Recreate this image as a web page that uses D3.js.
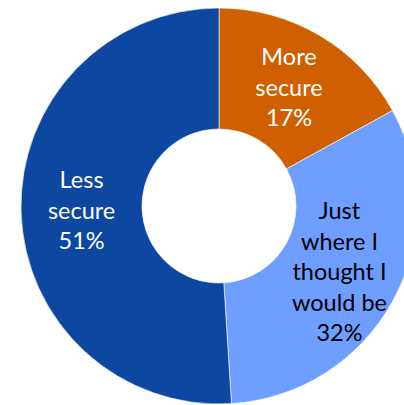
<!DOCTYPE html>
<html>
<head>
<meta charset="utf-8">
<script src="https://cdn.jsdelivr.net/npm/d3@7"></script>
<style>
  body { margin: 0; background: #fff; }
</style>
</head>
<body>
<div id="chart"></div>
<script>
const WIDTH = 404;
const HEIGHT = 405;

// données
const categories = ["More secure", "Just where I thought I would be", "Less secure"];
const values = [17, 32, 51];
const labelLines = [
  ["More", "secure", "17%"],
  ["Just", "where I", "thought I", "would be", "32%"],
  ["Less", "secure", "51%"]
];
const colors = ["#D05F00", "#6E9EFF", "#0D47A1"];
const textColors = ["#ffffff", "#000000", "#ffffff"];

const cx = 219;
const cy = 206;
const outerR = 198;
const innerR = 77;

const svg = d3
  .select("#chart")
  .append("svg")
  .attr("width", WIDTH)
  .attr("height", HEIGHT);

const g = svg.append("g").attr("transform", `translate(${cx},${cy})`);

const pie = d3.pie().sort(null).value((d) => d);
const arcs = pie(values);

const arc = d3.arc().innerRadius(innerR).outerRadius(outerR);

g.selectAll("path")
  .data(arcs)
  .enter()
  .append("path")
  .attr("d", arc)
  .attr("fill", (d, i) => colors[i])
  .attr("stroke", "#fff")
  .attr("stroke-width", 0.6);

// étiquettes au centre de chaque part
const LINE_H = 30.5;
const labels = g.selectAll("text.lbl")
  .data(arcs)
  .enter()
  .append("text")
  .attr("class", "lbl")
  .attr("transform", (d) => `translate(${arc.centroid(d)})`)
  .attr("text-anchor", "middle")
  .attr("font-family", "Lato, 'Open Sans', sans-serif")
  .attr("font-size", 23.5)
  .attr("fill", (d, i) => textColors[i]);

labels.each(function (d, i) {
  const lines = labelLines[i];
  const t = d3.select(this);
  lines.forEach((l, j) => {
    t.append("tspan")
      .attr("x", 0)
      .attr("y", (j - (lines.length - 1) / 2) * LINE_H)
      .attr("dy", "0.35em")
      .text(l);
  });
});
</script>
</body>
</html>
